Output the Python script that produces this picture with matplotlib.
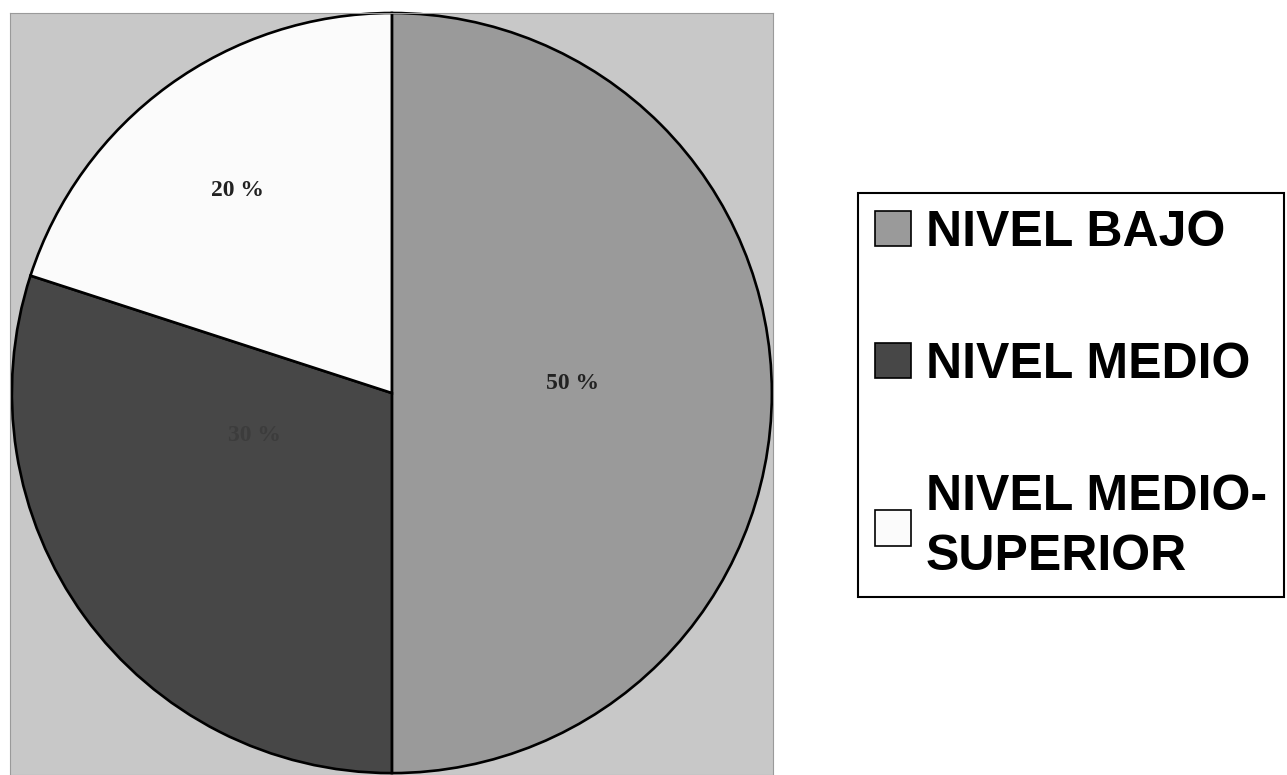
import matplotlib.pyplot as plt

# data
categories = ['NIVEL BAJO', 'NIVEL MEDIO', 'NIVEL MEDIO-\nSUPERIOR']
percents = [50, 30, 20]
slice_colors = ['#9a9a9a', '#474747', '#fbfbfb']
pct_labels = ['50 %', '30 %', '20 %']
pct_colors = ['#222222', '#3c3c3c', '#222222']

W, H = 1287, 775
fig = plt.figure(figsize=(W / 100, H / 100), dpi=100)
fig.patch.set_facecolor('white')

# pie axes sits exactly on the grey background panel
x0, x1, y0, y1 = 10, 773, 13, 775
ax = fig.add_axes([x0 / W, 1 - y1 / H, (x1 - x0) / W, (y1 - y0) / H])

wedges, texts = ax.pie(percents, colors=slice_colors, startangle=90, counterclock=False,
                       radius=1.0, frame=True,
                       wedgeprops=dict(edgecolor='black', linewidth=1.9))

ax.set_facecolor('#c8c8c8')
ax.set_aspect('auto')
ax.set_xlim(-1.005, 1.003)
ax.set_ylim(-1.005, 1.0)
for s in ax.spines.values():
    s.set_color('#9a9a9a')
    s.set_linewidth(0.8)
ax.set_xticks([])
ax.set_yticks([])

# percent labels (label spots, in pie radius units)
label_pos = [(0.476, 0.024), (-0.361, -0.111), (-0.405, 0.534)]
for (lx, ly), t, c in zip(label_pos, pct_labels, pct_colors):
    ax.text(lx, ly, t, ha='center', va='center', fontsize=17, fontweight='bold',
            family='Liberation Serif', color=c)

leg = fig.legend(wedges, categories, loc='upper left',
                 bbox_to_anchor=(858 / W, 1 - 193 / H), borderaxespad=0,
                 prop=dict(family='Liberation Sans', weight='bold', size=36),
                 frameon=True, fancybox=False, edgecolor='black', framealpha=1,
                 handlelength=0.72, handleheight=0.72, handletextpad=0.3,
                 borderpad=0.34, labelspacing=1.72)
leg.get_frame().set_linewidth(1.5)
for h in leg.legend_handles:
    h.set_linewidth(1.2)
for t in leg.get_texts():
    t.set_linespacing(1.4)

fig.savefig('out.png', dpi=100)
